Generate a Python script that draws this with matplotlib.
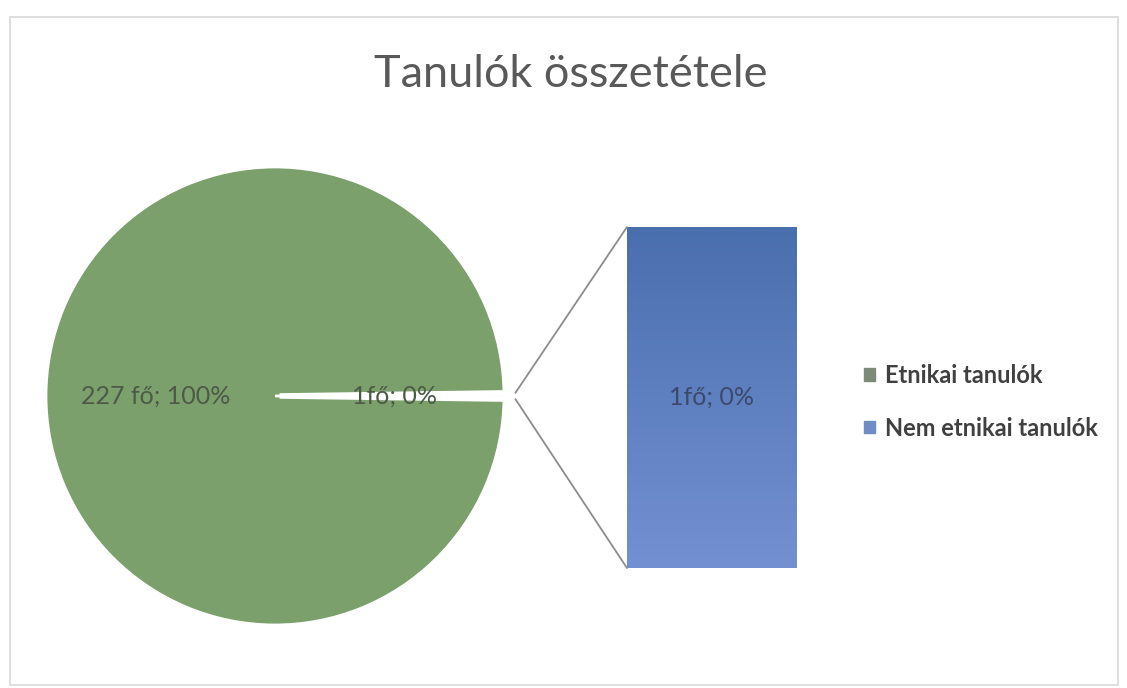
import numpy as np
import matplotlib.pyplot as plt
from matplotlib.patches import ConnectionPatch, Rectangle
from matplotlib.colors import LinearSegmentedColormap

plt.rcParams['font.family'] = ['Lato', 'DejaVu Sans']

# adatok
title = "Tanulók összetétele"
pie_values = [227, 1]
pie_labels = ["227 fő; 100%", "1fő; 0%"]
bar_values = [1]
bar_labels = ["1fő; 0%"]
legend_labels = ["Etnikai tanulók", "Nem etnikai tanulók"]

green = "#7ba06c"
blue_top = "#4a6fae"
blue_bottom = "#7390d2"

fig = plt.figure(figsize=(11.27, 6.88), dpi=100)
fig.patch.set_facecolor("white")

# keret
fig.patches.append(Rectangle((10 / 1127, 3 / 688), 1108 / 1127, 668 / 688,
                             transform=fig.transFigure, fill=False,
                             edgecolor="#d9d9d9", lw=1.2))

fig.text(0.506, 0.891, title, ha="center", va="center",
         fontsize=32.5, color="#595959")

# kördiagram
ax1 = fig.add_axes([0.0408, 0.0916, 0.4064, 0.6657])
half = 360 * pie_values[1] / sum(pie_values) / 2
wedges, _ = ax1.pie(pie_values, colors=[green, "#f8faf2"], startangle=half,
                    explode=[0, 0.02], radius=1,
                    wedgeprops=dict(edgecolor="white", linewidth=2))
wedges[1].set_linewidth(4)
for w in wedges:
    w.set_clip_on(False)
for w, lab, d in zip(wedges, pie_labels, [0.52, 0.52]):
    ang = np.deg2rad((w.theta1 + w.theta2) / 2)
    ax1.text(d * np.cos(ang), d * np.sin(ang), lab, ha="center", va="center",
             fontsize=18, color="#4d5a47")
ax1.set_xlim(-1, 1)
ax1.set_ylim(-1, 1)
ax1.set_aspect("equal")
ax1.axis("off")

# oszlop
ax2 = fig.add_axes([0.5563, 0.1744, 0.1508, 0.4956])
bars = ax2.bar([0], bar_values, width=1, color="none")
grad = np.linspace(0, 1, 256).reshape(-1, 1)
cmap = LinearSegmentedColormap.from_list("kek", [blue_bottom, blue_top])
img = ax2.imshow(grad, extent=[-0.5, 0.5, 0, bar_values[0]], origin="lower",
                 cmap=cmap, aspect="auto")
img.set_clip_path(bars[0])
ax2.text(0, bar_values[0] / 2, bar_labels[0], ha="center", va="center",
         fontsize=18, color="#3b4a6b")
ax2.set_xlim(-0.5, 0.5)
ax2.set_ylim(0, bar_values[0])
ax2.axis("off")

# összekötő vonalak
w = wedges[1]
cx, cy = w.center
for ang, yb in [(w.theta2, bar_values[0]), (w.theta1, 0)]:
    a = np.deg2rad(ang)
    con = ConnectionPatch(xyA=(cx + 1.03 * np.cos(a), cy + np.sin(a)), coordsA=ax1.transData,
                          xyB=(-0.5, yb), coordsB=ax2.transData,
                          color="#8c8c8c", lw=1.3)
    fig.add_artist(con)

# jelmagyarázat
handles = [Rectangle((0, 0), 1, 1, color="#7d8a76"),
           Rectangle((0, 0), 1, 1, color="#6f8cc4")]
fig.legend(handles, legend_labels, loc="center left",
           bbox_to_anchor=(0.748, 0.416), frameon=False,
           prop=dict(size=17, weight="bold"),
           labelcolor="#404040", handlelength=0.45, handleheight=0.45,
           handletextpad=0.45, labelspacing=1.25)

fig.savefig("out.png", dpi=100, facecolor=fig.get_facecolor())
